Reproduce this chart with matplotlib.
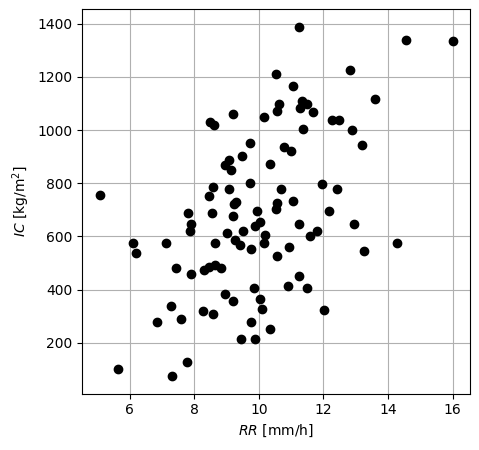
import numpy as np
import matplotlib
matplotlib.use("Agg")
import matplotlib.pyplot as plt

# rain rate (mm/h) and ice content (kg/m2)
rr = [5.08, 5.63, 6.10, 6.20, 6.85, 7.12, 7.29, 7.30, 7.42, 7.58,
      7.78, 7.81, 7.89, 7.86, 7.89, 8.28, 8.30, 8.46, 8.46, 8.48,
      8.55, 8.59, 8.59, 8.62, 8.64, 8.65, 8.84, 8.96, 8.96, 9.02,
      9.07, 9.07, 9.14, 9.21, 9.21, 9.21, 9.22, 9.28, 9.25, 9.43,
      9.45, 9.48, 9.51, 9.74, 9.74, 9.76, 9.76, 9.86, 9.88, 9.89,
      9.95, 10.04, 10.04, 10.11, 10.17, 10.17, 10.20, 10.35, 10.36, 10.52,
      10.55, 10.54, 10.56, 10.56, 10.61, 10.69, 10.77, 10.89, 10.92, 10.98,
      11.06, 11.07, 11.23, 11.23, 11.25, 11.27, 11.34, 11.38, 11.50, 11.50,
      11.59, 11.68, 11.80, 11.96, 12.03, 12.16, 12.27, 12.41, 12.47, 12.83,
      12.87, 12.94, 13.19, 13.24, 13.61, 14.29, 14.57, 16.00]
ic = [755, 101, 575, 537, 277, 575, 337, 74, 480, 289,
      127, 690, 646, 620, 458, 319, 474, 486, 752, 1031,
      690, 307, 785, 1020, 491, 575, 481, 382, 867, 614,
      889, 778, 850, 1059, 357, 676, 721, 731, 586, 567,
      214, 902, 620, 953, 800, 552, 277, 405, 638, 214,
      694, 653, 365, 327, 1048, 577, 605, 872, 252, 703,
      724, 1212, 525, 1071, 1097, 780, 937, 412, 559, 923,
      1167, 735, 1389, 452, 646, 1084, 1110, 1003, 1100, 406,
      600, 1070, 622, 796, 322, 694, 1037, 777, 1040, 1225,
      999, 646, 943, 545, 1119, 575, 1340, 1336]

fig = plt.figure(figsize=(4.79, 4.5), dpi=100)
ax = fig.add_axes([82.3 / 479, (450 - 393.7) / 450, 388 / 479, 384.4 / 450])

ax.scatter(rr, ic, color="black", zorder=3)
ax.grid(True, zorder=0)
ax.set_axisbelow(True)

ax.set_xlabel("$RR$ [mm/h]")
ax.set_ylabel("$IC$ [kg/m$^2$]")

fig.savefig("out.png", dpi=100)
